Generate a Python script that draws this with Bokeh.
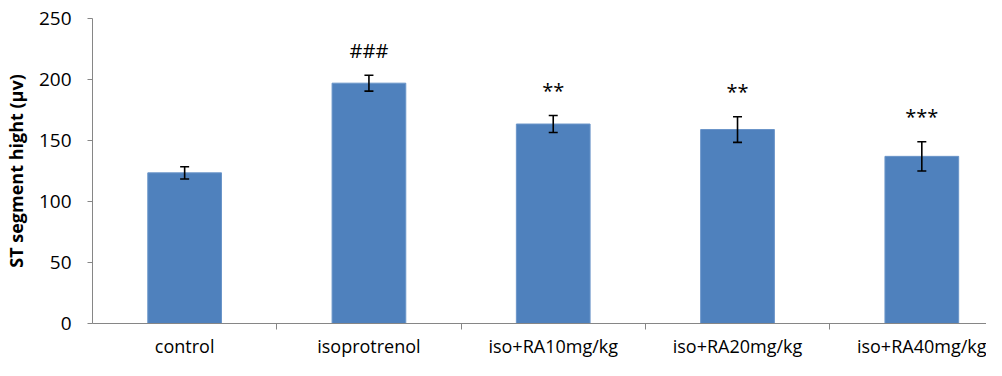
from bokeh.plotting import figure
from bokeh.models import Range1d, FixedTicker, Whisker, ColumnDataSource, TeeHead
from bokeh.core.properties import value
from bokeh.embed import file_html
from bokeh.resources import INLINE

categories = ["control", "isoprotrenol", "iso+RA10mg/kg", "iso+RA20mg/kg", "iso+RA40mg/kg"]
means = [123.5, 197, 163.5, 159, 137]
errors = [5, 6.5, 7, 10.5, 12]
marks = ["", "###", "**", "**", "***"]
y_ticks = [0, 50, 100, 150, 200, 250]

xs = list(range(len(categories)))
src = ColumnDataSource(dict(
    x=xs, mean=means,
    upper=[m + e for m, e in zip(means, errors)],
    lower=[m - e for m, e in zip(means, errors)],
    marks=marks,
))

FONT = "Open Sans"
GRAY = "#868686"

p = figure(width=986, height=360, output_backend="svg", toolbar_location=None,
           x_range=Range1d(-0.5, 4.351), y_range=Range1d(0, 250),
           min_border_left=90, min_border_right=0, min_border_top=18, min_border_bottom=32)
p.outline_line_color = None
p.xgrid.visible = False
p.ygrid.visible = False
p.background_fill_color = "white"
p.border_fill_color = "white"

p.vbar(x="x", top="mean", width=0.4, bottom=0, source=src,
       fill_color="#4F81BD", line_color="#6A95C9", line_width=1)

w = Whisker(base="x", upper="upper", lower="lower", source=src,
            line_color="black", line_width=1.6, level="overlay",
            upper_head=TeeHead(size=9, line_color="black", line_width=1.6),
            lower_head=TeeHead(size=9, line_color="black", line_width=1.6))
p.add_layout(w)

p.text(x="x", y="upper", text="marks", source=src, y_offset=-25,
       text_align="center", text_baseline="middle",
       text_font=value(FONT), text_font_size="20px", text_color="black")

# x axis
xa = p.xaxis[0]
xa.ticker = FixedTicker(ticks=xs, minor_ticks=[0.5, 1.5, 2.5, 3.5])
xa.major_label_overrides = {i: c for i, c in zip(xs, categories)}
xa.major_tick_out = 0
xa.major_tick_in = 0
xa.minor_tick_out = 6
xa.minor_tick_in = 0
xa.minor_tick_line_color = GRAY
xa.axis_line_color = GRAY
xa.major_label_text_font = FONT
xa.major_label_text_font_size = "18px"
xa.major_label_text_color = "black"
xa.major_label_standoff = 4

# y axis
ya = p.yaxis[0]
ya.ticker = FixedTicker(ticks=y_ticks)
ya.major_tick_out = 5
ya.major_tick_in = 0
ya.minor_tick_out = 0
ya.minor_tick_in = 0
ya.major_tick_line_color = GRAY
ya.axis_line_color = GRAY
ya.major_label_text_font = FONT
ya.major_label_text_font_size = "19px"
ya.major_label_text_color = "black"
ya.major_label_standoff = 16
ya.axis_label = "ST segment hight (µv)"
ya.axis_label_text_font = FONT
ya.axis_label_text_font_style = "bold"
ya.axis_label_text_font_size = "18px"
ya.axis_label_text_color = "black"
ya.axis_label_standoff = 8

open("out.html", "w").write(file_html(p, INLINE))
